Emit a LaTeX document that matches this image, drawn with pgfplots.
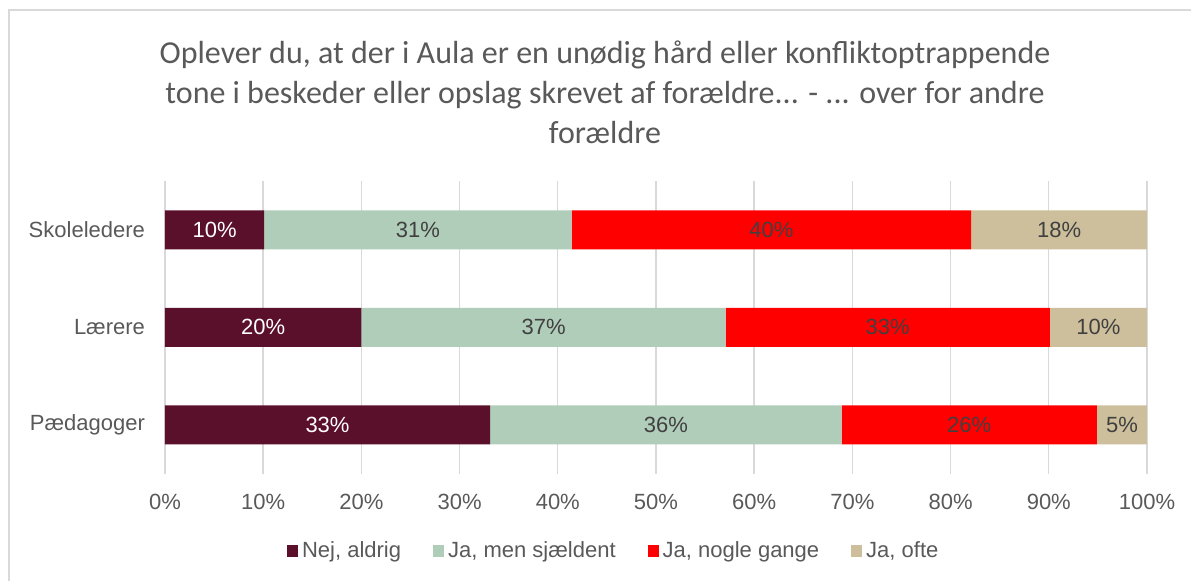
\documentclass[border=0pt]{standalone}
\usepackage{pgfplots}
\pgfplotsset{compat=1.18}
\usepackage{pgfplotstable}
\usepackage{fontspec}
\setmainfont{Liberation Sans}
\newfontfamily\titlefont{Carlito}
\definecolor{cMaroon}{HTML}{5A0F2A}
\definecolor{cGreen}{HTML}{B0CDBA}
\definecolor{cRed}{HTML}{FF0000}
\definecolor{cBeige}{HTML}{CEBF9C}
\definecolor{cText}{HTML}{595959}
\definecolor{cLabel}{HTML}{404040}
\definecolor{cGrid}{HTML}{D9D9D9}

\pgfplotstableread{
y v1 l1 v2 l2 v3 l3 v4 l4
0 33.1 33 35.8 36 26.0 26 5.1 5
1 20.0 20 37.1 37 33.0 33 9.9 10
2 10.1 10 31.3 31 40.7 40 17.9 18
}\datatable

\pgfplotsset{
  common/.style={
    at={(0,0)}, anchor=south west,
    scale only axis, width=491pt, height=146.25pt,
    xmin=0, xmax=100, ymin=-0.5, ymax=2.5,
  },
  lbl/.style={only marks, mark=none, point meta=explicit symbolic,
    nodes near coords={\pgfplotspointmeta\%},
    every node near coord/.style={anchor=center, font=\fontsize{11}{13}\selectfont, text=cLabel}},
}

\begin{document}
\begin{tikzpicture}
\useasboundingbox (-82.5pt,-53.25pt) rectangle (513pt,236.75pt);
\draw[cGrid, line width=0.75pt] (-78pt,-60pt) -- (-78pt,231.75pt) -- (520pt,231.75pt);
\begin{axis}[
  common,
  xbar stacked, bar width=19.5pt,
  xtick={0,10,...,100},
  xticklabels={0\%,10\%,20\%,30\%,40\%,50\%,60\%,70\%,80\%,90\%,100\%},
  ytick={0,1,2}, yticklabels={Pædagoger,Lærere,Skoleledere},
  axis line style={draw=none}, major tick length=0pt,
  xmajorgrids, grid style={cGrid, line width=0.7pt},
  tick label style={font=\fontsize{11}{13}\selectfont, text=cText},
  yticklabel style={xshift=-6.5pt},
  xticklabel style={yshift=-7pt},
  legend columns=4,
  legend style={at={(0.458,-0.264)}, anchor=center, draw=none, fill=none,
    font=\fontsize{11}{13}\selectfont, text=cText,
    /tikz/every even column/.append style={column sep=14pt}},
  legend image code/.code={\fill[#1] (0pt,-3pt) rectangle (5.5pt,3pt);},
]
\addplot[fill=cMaroon, draw=none] table[x=v1, y=y] {\datatable};
\addplot[fill=cGreen, draw=none] table[x=v2, y=y] {\datatable};
\addplot[fill=cRed, draw=none] table[x=v3, y=y] {\datatable};
\addplot[fill=cBeige, draw=none] table[x=v4, y=y] {\datatable};
\legend{{Nej, aldrig},{Ja, men sjældent},{Ja, nogle gange},{Ja, ofte}}
\end{axis}
\begin{axis}[common, hide axis]
\addplot[lbl, every node near coord/.append style={text=white}] table[x expr={\thisrow{v1}/2}, y=y, meta=l1] {\datatable};
\addplot[lbl] table[x expr={\thisrow{v1}+\thisrow{v2}/2}, y=y, meta=l2] {\datatable};
\addplot[lbl] table[x expr={\thisrow{v1}+\thisrow{v2}+\thisrow{v3}/2}, y=y, meta=l3] {\datatable};
\addplot[lbl] table[x expr={\thisrow{v1}+\thisrow{v2}+\thisrow{v3}+\thisrow{v4}/2}, y=y, meta=l4] {\datatable};
\end{axis}
\node[align=center, font=\titlefont\fontsize{16}{20}\selectfont, text=cText] at (220pt,190.75pt)
 {Oplever du, at der i Aula er en unødig hård eller konfliktoptrappende\\tone i beskeder eller opslag skrevet af forældre... - ... over for andre\\forældre};
\end{tikzpicture}
\end{document}
